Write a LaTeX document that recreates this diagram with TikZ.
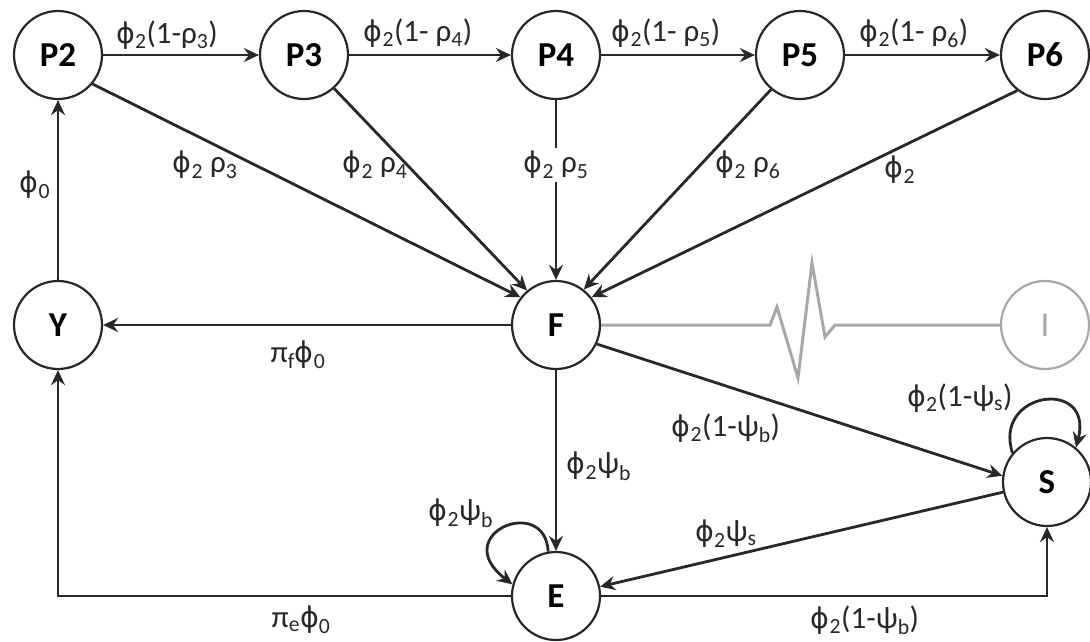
\documentclass[tikz,border=0pt]{standalone}
\usepackage{fontspec}
\setmainfont{Carlito}
\newfontfamily\phfont[Scale=0.92]{DejaVu Sans}
\usetikzlibrary{arrows.meta}
\definecolor{ink}{RGB}{40,40,40}
\definecolor{lgray}{RGB}{168,168,168}
\newcommand\mysub[1]{\textsubscript{#1}}
\newcommand\ph{{\phfont ϕ}}
\begin{document}
\begin{tikzpicture}[x=1pt,y=-1pt,
  st/.style={circle, draw=ink, line width=2.2pt, minimum size=88pt, inner sep=0pt,
    font=\fontsize{35}{40}\selectfont\bfseries, text=black},
  ist/.style={st, draw=lgray, text=lgray, font=\fontsize{35}{40}\selectfont},
  edge/.style={draw=ink, line width=2.8pt, -{Stealth[length=15pt,width=14pt,inset=5pt]}},
  glink/.style={draw=lgray, line width=3pt, line join=miter},
  lab/.style={font=\fontsize{31}{36}\selectfont, text=ink, inner sep=1pt}]
\useasboundingbox (0,0) rectangle (1090,641);
\fill[white] (0,0) rectangle (1090,641);
% states
\node[st] (P2) at (58,55) {P2};
\node[st] (P3) at (304,55) {P3};
\node[st] (P4) at (556,55) {P4};
\node[st] (P5) at (800,55) {P5};
\node[st] (P6) at (1045,55) {P6};
\node[st] (Y) at (58,325) {Y};
\node[st] (F) at (556,325) {F};
\node[ist] (I) at (1045,325) {I};
\node[st] (S) at (1047,482) {S};
\node[st] (E) at (556,596) {E};
% top chain
\draw[edge] (P2.east) -- (P3.west);
\draw[edge] (P3.east) -- (P4.west);
\draw[edge] (P4.east) -- (P5.west);
\draw[edge] (P5.east) -- (P6.west);
% into F
\draw[edge] (P2.-40) -- (F.142);
\draw[edge] (P3.-48) -- (F.130);
\draw[edge] (P4.south) -- (F.north);
\draw[edge] (P5.-130) -- (F.52);
\draw[edge] (P6.-128) -- (F.38);
% Y
\draw[edge] (Y.north) -- (P2.south);
\draw[edge] (F.west) -- (Y.east);
% F to I (gray, zigzag)
\draw[glink] (F.east) -- (770,325) -- (777,307) -- (798,378) -- (812,263) -- (825,337) -- (835,325) -- (I.west);
% F to S, F to E, S to E
\draw[edge] (F.-25) -- (S.172);
\draw[edge] (F.south) -- (E.north);
\draw[edge] (S.193) -- (E.12);
% bottom routes
\draw[edge] (E.west) -- (Y.south |- E.west) -- (Y.south);
\draw[edge] (E.east) -- (S.south |- E.east) -- (S.south);
% self loops
\draw[edge] (E.100) .. controls +(-3,-58) and +(-65,-50) .. (E.165);
\draw[edge] (S.140) .. controls +(-20,-62) and +(18,-70) .. (S.50);
% labels
\node[lab] (l1) at (167,35) {\ph\mysub{2}(1-ρ\mysub{3})};
\node[lab] (l2) at (418,33) {\ph\mysub{2}(1- ρ\mysub{4})};
\node[lab] (l3) at (666,33) {\ph\mysub{2}(1- ρ\mysub{5})};
\node[lab] (l4) at (914,33) {\ph\mysub{2}(1- ρ\mysub{6})};
\node[lab] (l5) at (205,165) {\ph\mysub{2} ρ\mysub{3}};
\node[lab] (l6) at (375,165) {\ph\mysub{2} ρ\mysub{4}};
\node[lab, fill=white, inner sep=3pt] (l7) at (556,165) {\ph\mysub{2} ρ\mysub{5}};
\node[lab] (l8) at (748,165) {\ph\mysub{2} ρ\mysub{6}};
\node[lab] (l9) at (900,170) {\ph\mysub{2}};
\node[lab] (l10) at (35,185) {\ph\mysub{0}};
\node[lab] (l11) at (298,355) {π\mysub{f}\ph\mysub{0}};
\node[lab] (l12) at (726,428) {\ph\mysub{2}(1-ψ\mysub{b})};
\node[lab] (l13) at (960,398) {\ph\mysub{2}(1-ψ\mysub{s})};
\node[lab] (l14) at (599,466) {\ph\mysub{2}ψ\mysub{b}};
\node[lab] (l15) at (461,513) {\ph\mysub{2}ψ\mysub{b}};
\node[lab] (l16) at (726,534) {\ph\mysub{2}ψ\mysub{s}};
\node[lab] (l17) at (301,620) {π\mysub{e}\ph\mysub{0}};
\node[lab] (l18) at (865,620) {\ph\mysub{2}(1-ψ\mysub{b})};
\end{tikzpicture}
\end{document}
